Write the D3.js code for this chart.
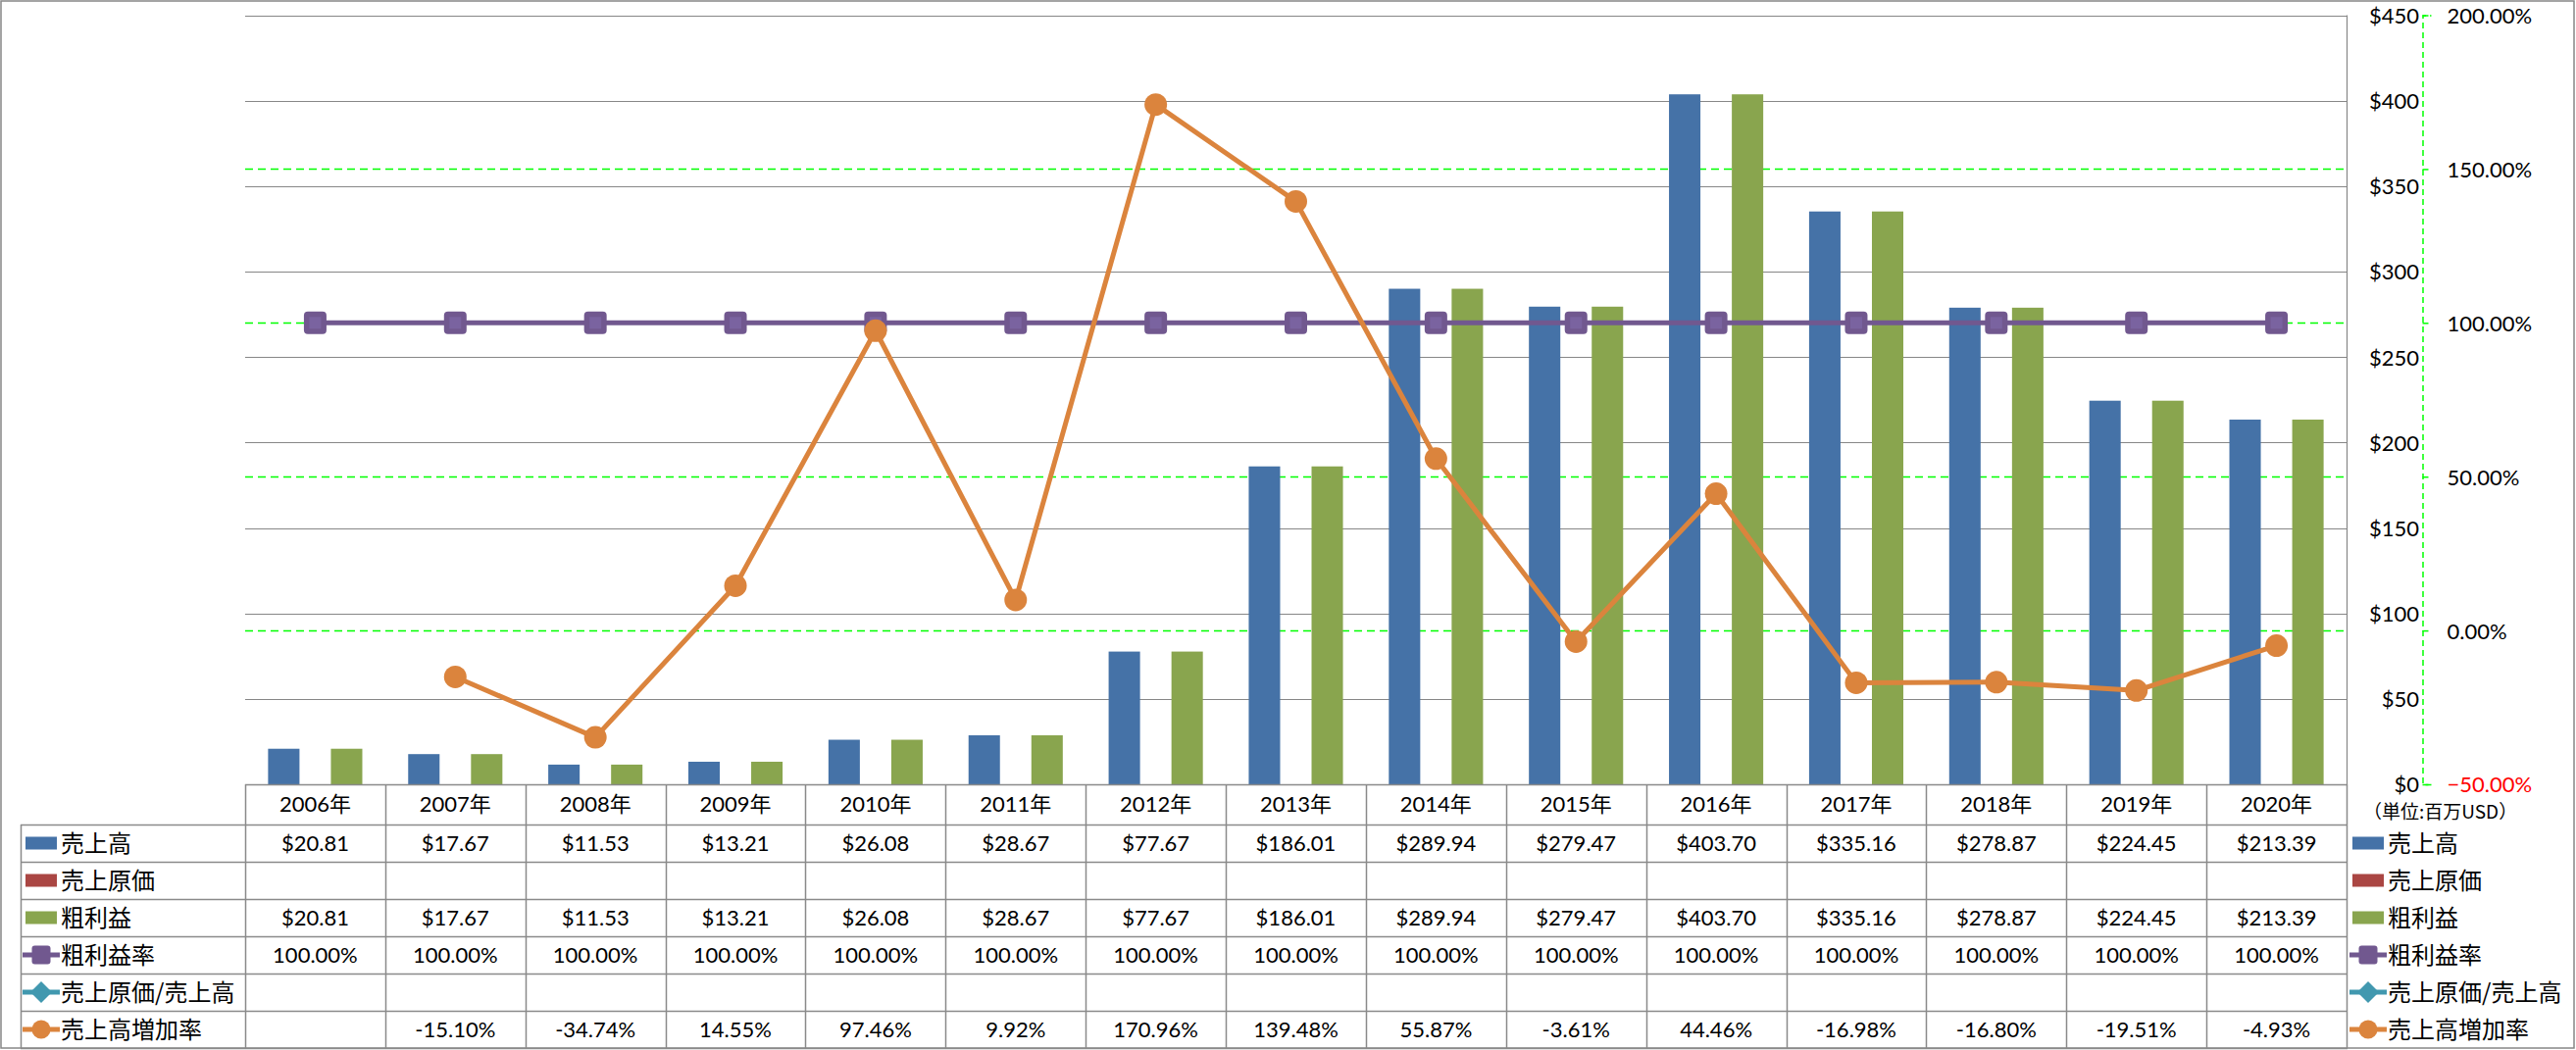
<!DOCTYPE html>
<html>
<head>
<meta charset="utf-8">
<script src="https://cdn.jsdelivr.net/npm/d3@7"></script>
<style>
  html, body { margin: 0; padding: 0; background: #fff; }
  svg { display: block; }
  .num { font-family: Lato, "Noto Sans CJK JP", sans-serif; font-size: 22px; fill: #000; }
  .jp { font-family: "Noto Sans CJK JP", sans-serif; font-size: 24px; fill: #000; }
</style>
</head>
<body>
<svg id="chart" width="2627" height="1071"></svg>
<script>
// ---------------- data ----------------
const categories = ["2006年","2007年","2008年","2009年","2010年","2011年","2012年","2013年","2014年","2015年","2016年","2017年","2018年","2019年","2020年"];
const seriesNames = ["売上高","売上原価","粗利益","粗利益率","売上原価/売上高","売上高増加率"];
const sales       = [20.81,17.67,11.53,13.21,26.08,28.67,77.67,186.01,289.94,279.47,403.70,335.16,278.87,224.45,213.39];
const costOfSales = [null,null,null,null,null,null,null,null,null,null,null,null,null,null,null];
const grossProfit = [20.81,17.67,11.53,13.21,26.08,28.67,77.67,186.01,289.94,279.47,403.70,335.16,278.87,224.45,213.39];
const grossMargin = [100,100,100,100,100,100,100,100,100,100,100,100,100,100,100];
const costRatio   = [null,null,null,null,null,null,null,null,null,null,null,null,null,null,null];
const salesGrowth = [null,-15.10,-34.74,14.55,97.46,9.92,170.96,139.48,55.87,-3.61,44.46,-16.98,-16.80,-19.51,-4.93];
const leftTicks  = [0,50,100,150,200,250,300,350,400,450];
const rightTicks = [-50,0,50,100,150,200];
const unitLabel = "（単位:百万USD）";

// ---------------- layout ----------------
const colors = {"売上高":"#4572A7","売上原価":"#AA4643","粗利益":"#89A54E","粗利益率":"#71588F","売上原価/売上高":"#4198AF","売上高増加率":"#DB843D"};
const plot = {left: 250, right: 2393, top: 15.5, bottom: 800};
const tableLeft = 21, headerH = 41, rowH = 38;

const svg = d3.select("#chart");
const x = d3.scaleBand().domain(categories).range([plot.left, plot.right]);
const sub = d3.scaleBand().domain(["売上高","売上原価","粗利益"]).range([0, x.bandwidth()]).paddingInner(0).paddingOuter(0.73);
const yL = d3.scaleLinear().domain([0,450]).range([plot.bottom, plot.top]);
const yR = d3.scaleLinear().domain([-50,200]).range([plot.bottom, plot.top]);

// outer border
svg.append("rect").attr("x",1).attr("y",1).attr("width",2624).attr("height",1068)
  .attr("fill","#fff").attr("stroke","#878787").attr("stroke-width",1.5);

// green dashed gridlines (secondary axis)
svg.append("g").selectAll("line").data(rightTicks.filter(t => t > -50 && t < 200)).join("line")
  .attr("x1",plot.left).attr("x2",plot.right)
  .attr("y1",d=>Math.round(yR(d))+0.5).attr("y2",d=>Math.round(yR(d))+0.5)
  .attr("stroke","#00FF00").attr("stroke-width",1.5).attr("stroke-dasharray","8,5");

// gray gridlines
svg.append("g").selectAll("line").data(leftTicks).join("line")
  .attr("x1",plot.left).attr("x2",plot.right)
  .attr("y1",d=>Math.round(yL(d))+0.5).attr("y2",d=>Math.round(yL(d))+0.5)
  .attr("stroke","#878787").attr("stroke-width",1.2);

// plot right border
svg.append("line").attr("x1",plot.right+0.5).attr("x2",plot.right+0.5)
  .attr("y1",plot.top).attr("y2",plot.bottom).attr("stroke","#878787").attr("stroke-width",1.2);

// bars
const barSeries = [["売上高",sales],["売上原価",costOfSales],["粗利益",grossProfit]];
barSeries.forEach(([name, vals]) => {
  svg.append("g").selectAll("rect").data(vals.map((v,i)=>({v, c: categories[i]})).filter(d=>d.v!=null)).join("rect")
    .attr("x", d => x(d.c) + sub(name))
    .attr("width", sub.bandwidth())
    .attr("y", d => yL(d.v))
    .attr("height", d => yL(0) - yL(d.v))
    .attr("fill", colors[name]);
});

// lines
const line = d3.line().defined(d=>d.v!=null).x(d=>x(d.c)+x.bandwidth()/2).y(d=>yR(d.v));
function drawLine(name, vals, marker) {
  const pts = vals.map((v,i)=>({v, c: categories[i]}));
  svg.append("path").datum(pts).attr("d", line).attr("fill","none")
    .attr("stroke", colors[name]).attr("stroke-width", 5).attr("stroke-linejoin","round");
  const g = svg.append("g");
  const valid = pts.filter(d=>d.v!=null);
  if (marker === "square") {
    g.selectAll("rect").data(valid).join("rect")
      .attr("x", d=>x(d.c)+x.bandwidth()/2-11.5).attr("y", d=>yR(d.v)-11.5)
      .attr("width",23).attr("height",23).attr("rx",4).attr("fill",colors[name]);
    g.selectAll("rect.in").data(valid).join("rect").attr("class","in")
      .attr("x", d=>x(d.c)+x.bandwidth()/2-6).attr("y", d=>yR(d.v)-6)
      .attr("width",12).attr("height",12).attr("fill","#7A63A0");
  } else {
    g.selectAll("circle").data(valid).join("circle")
      .attr("cx", d=>x(d.c)+x.bandwidth()/2).attr("cy", d=>yR(d.v)).attr("r",11.5)
      .attr("fill",colors[name]);
  }
}
drawLine("粗利益率", grossMargin, "square");
drawLine("売上原価/売上高", costRatio, "diamond");
drawLine("売上高増加率", salesGrowth, "circle");

// left ($) axis labels on the right side
const axL = svg.append("g").attr("transform","translate(2470,0)")
  .call(d3.axisLeft(yL).tickValues(leftTicks).tickSize(0).tickPadding(3).tickFormat(d=>"$"+d));
axL.select(".domain").remove();
axL.selectAll("text").attr("class","num").attr("font-size",null).attr("font-family",null).attr("dy","0.36em");

// right (%) axis
const axR = svg.append("g").attr("transform","translate(2470.5,0)")
  .call(d3.axisRight(yR).tickValues(rightTicks).tickSize(9).tickPadding(16).tickFormat(d=>d3.format(".2f")(d)+"%"));
axR.select(".domain").attr("stroke","#00FF00").attr("stroke-width",1.5).attr("stroke-dasharray","6,4");
axR.selectAll(".tick line").attr("stroke","#00FF00").attr("stroke-width",1.5).attr("stroke-dasharray","6,3");
axR.selectAll("text").attr("class","num").attr("font-size",null).attr("font-family",null).attr("dy","0.36em")
  .style("fill", d => d < 0 ? "#FF0000" : "#000");

// unit label
svg.append("text").attr("x",2410).attr("y",828).attr("dy","0.36em")
  .attr("font-family","'Noto Sans CJK JP', sans-serif").attr("font-size",19).text(unitLabel);

// ---------------- data table ----------------
const tbl = svg.append("g");
const gridColor = "#8A8A8A";
const rowTops = d3.range(seriesNames.length + 1).map(i => plot.bottom + headerH + i*rowH);
tbl.append("line").attr("x1",plot.left).attr("x2",plot.right+1).attr("y1",plot.bottom+0.5).attr("y2",plot.bottom+0.5)
  .attr("stroke",gridColor).attr("stroke-width",1.5);
tbl.selectAll("line.h").data(rowTops).join("line").attr("class","h")
  .attr("x1",tableLeft).attr("x2",plot.right+1).attr("y1",d=>d+0.5).attr("y2",d=>d+0.5)
  .attr("stroke",gridColor).attr("stroke-width",1.5);
const colEdges = categories.map(c => x(c)).concat([plot.right]);
tbl.selectAll("line.v").data(colEdges).join("line").attr("class","v")
  .attr("x1",d=>Math.round(d)+0.5).attr("x2",d=>Math.round(d)+0.5)
  .attr("y1",plot.bottom).attr("y2",rowTops[rowTops.length-1])
  .attr("stroke",gridColor).attr("stroke-width",1.5);
tbl.append("line").attr("x1",tableLeft+0.5).attr("x2",tableLeft+0.5)
  .attr("y1",rowTops[0]).attr("y2",rowTops[rowTops.length-1]).attr("stroke",gridColor).attr("stroke-width",1.5);

tbl.selectAll("text.cat").data(categories).join("text").attr("class","num")
  .attr("x", d=>x(d)+x.bandwidth()/2).attr("y", plot.bottom + headerH/2).attr("dy","0.36em")
  .attr("text-anchor","middle").text(d=>d);

const money = v => v==null ? "" : "$" + v.toFixed(2);
const pct = v => v==null ? "" : v.toFixed(2) + "%";
const rows = [
  ["売上高", sales, money, "bar"],
  ["売上原価", costOfSales, money, "bar"],
  ["粗利益", grossProfit, money, "bar"],
  ["粗利益率", grossMargin, pct, "square"],
  ["売上原価/売上高", costRatio, pct, "diamond"],
  ["売上高増加率", salesGrowth, pct, "circle"]
];

function legendSymbol(g, kind, color, cx, cy) {
  if (kind === "bar") {
    g.append("rect").attr("x",cx-16).attr("y",cy-6.5).attr("width",32).attr("height",13).attr("fill",color);
  } else {
    g.append("line").attr("x1",cx-19).attr("x2",cx+19).attr("y1",cy).attr("y2",cy)
      .attr("stroke",color).attr("stroke-width",5);
    if (kind === "square") g.append("rect").attr("x",cx-9.5).attr("y",cy-9.5).attr("width",19).attr("height",19).attr("rx",3).attr("fill",color);
    if (kind === "diamond") g.append("path").attr("d",`M${cx},${cy-11}L${cx+11},${cy}L${cx},${cy+11}L${cx-11},${cy}Z`).attr("fill",color);
    if (kind === "circle") g.append("circle").attr("cx",cx).attr("cy",cy).attr("r",9.5).attr("fill",color);
  }
}

rows.forEach(([name, vals, fmt, kind], r) => {
  const cy = rowTops[r] + rowH/2;
  legendSymbol(tbl, kind, colors[name], 42, cy);
  tbl.append("text").attr("class","jp").attr("x",62).attr("y",cy).attr("dy","0.36em").text(name);
  legendSymbol(tbl, kind, colors[name], 2415, cy);
  tbl.append("text").attr("class","jp").attr("x",2435).attr("y",cy).attr("dy","0.36em").text(name);
  tbl.selectAll(null).data(vals.map((v,i)=>({v, c: categories[i]}))).join("text").attr("class","num")
    .attr("x", d=>x(d.c)+x.bandwidth()/2).attr("y", cy).attr("dy","0.36em")
    .attr("text-anchor","middle").text(d=>fmt(d.v));
});
</script>
</body>
</html>
